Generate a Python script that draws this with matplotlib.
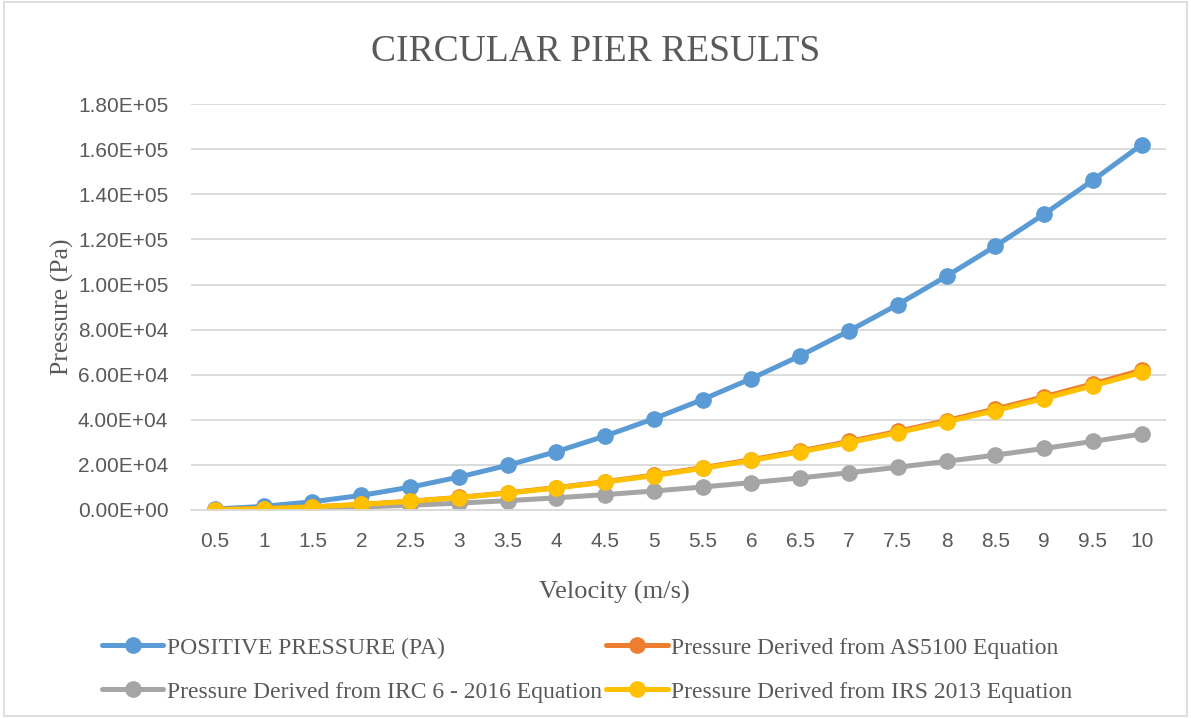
import matplotlib.pyplot as plt
from matplotlib.patches import Rectangle

velocity = ['0.5', '1', '1.5', '2', '2.5', '3', '3.5', '4', '4.5', '5',
            '5.5', '6', '6.5', '7', '7.5', '8', '8.5', '9', '9.5', '10']
positive = [400, 1620, 3650, 6480, 10100, 14600, 19800, 25900, 32800, 40500,
            49000, 58300, 68400, 79400, 91100, 103700, 117000, 131200, 146200, 162000]
as5100 = [155, 620, 1395, 2480, 3875, 5580, 7595, 9920, 12555, 15500,
          18755, 22320, 26195, 30380, 34875, 39680, 44795, 50220, 55955, 62000]
irc6 = [84, 337, 758, 1348, 2106, 3033, 4128, 5392, 6825, 8425,
        10194, 12132, 14238, 16513, 18956, 21568, 24349, 27297, 30414, 33700]
irs2013 = [152, 610, 1373, 2440, 3813, 5490, 7473, 9760, 12353, 15250,
           18453, 21960, 25773, 29890, 34313, 39040, 44073, 49410, 55053, 61000]
yticks = [0, 20000, 40000, 60000, 80000, 100000, 120000, 140000, 160000, 180000]
ylabels = ['0.00E+00', '2.00E+04', '4.00E+04', '6.00E+04', '8.00E+04',
           '1.00E+05', '1.20E+05', '1.40E+05', '1.60E+05', '1.80E+05']

serif = 'Liberation Serif'
sans = 'Liberation Sans'
txt = '#595959'

fig = plt.figure(figsize=(11.91, 7.18), dpi=100)
ax = fig.add_axes([0.160, 0.2897, 0.819, 0.5653])

x = range(len(velocity))
series = [
    (positive, '#5B9BD5', 'POSITIVE PRESSURE (PA)'),
    (as5100, '#ED7D31', 'Pressure Derived from AS5100 Equation'),
    (irc6, '#A5A5A5', 'Pressure Derived from IRC 6 - 2016 Equation'),
    (irs2013, '#FFC000', 'Pressure Derived from IRS 2013 Equation'),
]
lines = []
for vals, c, lab in series:
    ln, = ax.plot(x, vals, color=c, lw=3.6, marker='o', ms=11, label=lab,
                  solid_capstyle='round')
    lines.append(ln)

ax.set_xlim(-0.5, len(velocity) - 0.5)
ax.set_ylim(0, 180000)
ax.set_xticks(list(x))
ax.set_xticklabels(velocity, fontfamily=sans, fontsize=15, color=txt)
ax.set_yticks(yticks)
ax.set_yticklabels(ylabels, fontfamily=sans, fontsize=15, color=txt)
ax.tick_params(axis='y', length=0, pad=16)
ax.tick_params(axis='x', length=0, pad=16)
ax.grid(axis='y', color='#D9D9D9', lw=1.3)
ax.set_axisbelow(True)
for s in ['top', 'right', 'left']:
    ax.spines[s].set_visible(False)
ax.spines['bottom'].set_color('#D9D9D9')
ax.spines['bottom'].set_linewidth(1.3)

ax.set_xlabel('Velocity (m/s)', fontfamily=serif, fontsize=19, color=txt, labelpad=18)
ax.xaxis.set_label_coords(0.434, -0.175)
ax.set_ylabel('Pressure (Pa)', fontfamily=serif, fontsize=18.5, color=txt, labelpad=3)
fig.text(0.5, 0.928, 'CIRCULAR PIER RESULTS', ha='center', va='center',
         fontfamily=serif, fontsize=27, color=txt)

# row-major order like the original legend
order = [0, 2, 1, 3]
fig.legend([lines[i] for i in order], [series[i][2] for i in order],
           loc='center', bbox_to_anchor=(0.493, 0.067), ncol=2, frameon=False,
           prop={'family': serif, 'size': 17}, labelcolor=txt,
           handlelength=2.6, handletextpad=0.15, columnspacing=0.2,
           labelspacing=0.95)

fig.patches.append(Rectangle((0.003, 0.003), 0.994, 0.994, transform=fig.transFigure,
                             fill=False, edgecolor='#D9D9D9', lw=1.2))

fig.savefig('out.png', dpi=100)
